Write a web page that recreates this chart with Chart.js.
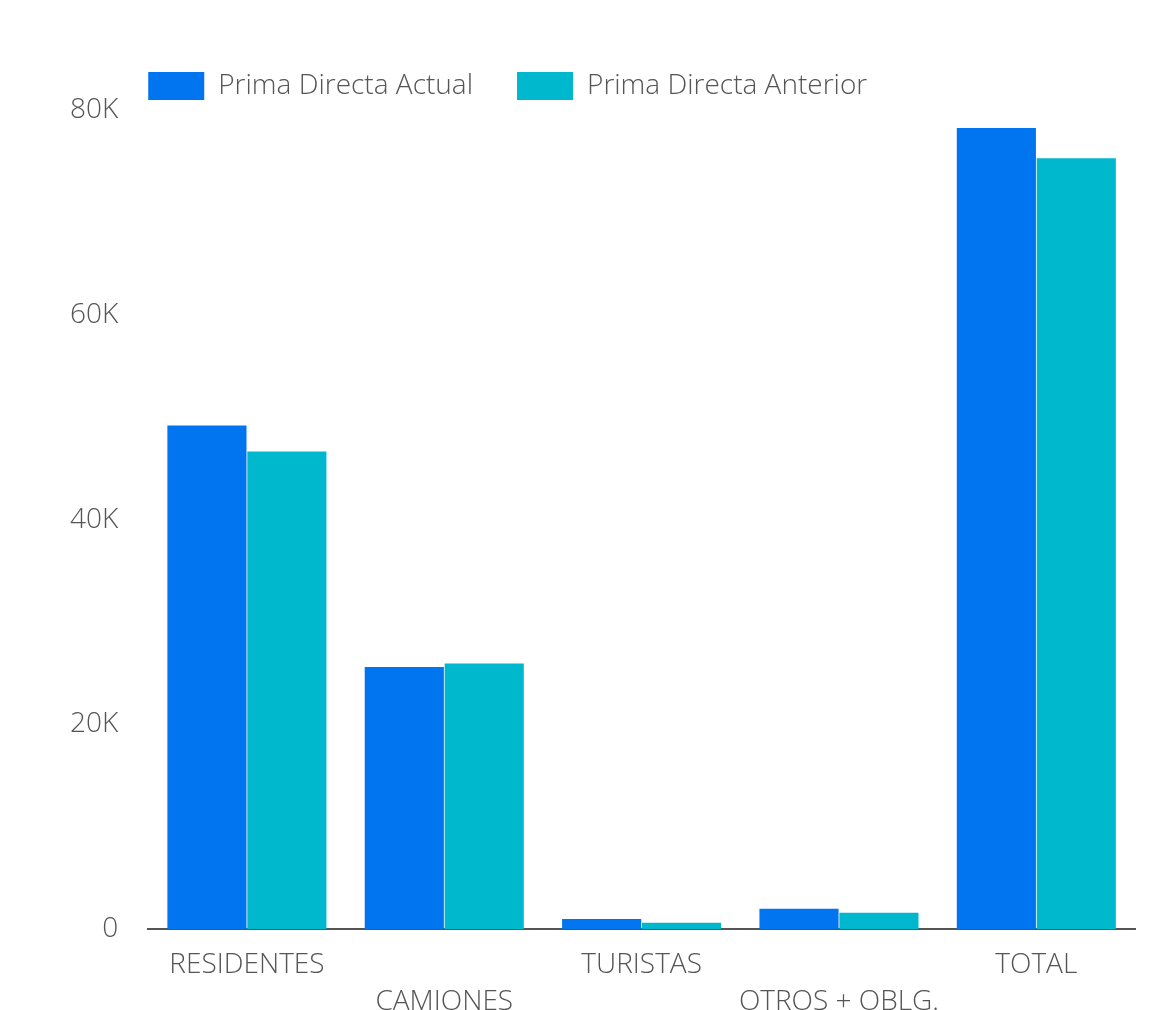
<!DOCTYPE html>
<html>
<head>
<meta charset="utf-8">
<script src="https://cdn.jsdelivr.net/npm/chart.js@4"></script>
<style>
  html, body { margin: 0; padding: 0; background: #fff; }
  #wrap { width: 1171px; height: 1010px; }
</style>
</head>
<body>
<div id="wrap"><canvas id="bar-chart"></canvas></div>
<script>
// datos
var categorias = ["RESIDENTES", ["", "CAMIONES"], "TURISTAS", ["", "OTROS + OBLG."], "TOTAL"];
var primaActual = [49200, 25600, 1000, 2000, 78250];
var primaAnterior = [46650, 25950, 620, 1600, 75300];
var ticksY = [0, 20000, 40000, 60000, 80000];

var gris = "#555555";
Chart.defaults.font.family = "'Open Sans', Lato, sans-serif";
Chart.defaults.font.weight = 300;
Chart.defaults.color = gris;

var legendPadding = 44;

// la leyenda empieza justo en el borde izquierdo del area del grafico
var legendLeft = {
    id: 'legendLeft',
    afterLayout: function (chart) {
        chart.legend.left -= legendPadding;
        chart.legend.right -= legendPadding;
    }
};

var ctx = document.getElementById("bar-chart");
var chartGraph = new Chart(ctx, {
    type: 'bar',
    data: {
        labels: categorias,
        datasets: [{
            label: "Prima Directa Actual",
            data: primaActual,
            backgroundColor: "#0174EF",
            categoryPercentage: 0.81,
            barPercentage: 0.99
        }, {
            label: "Prima Directa Anterior",
            data: primaAnterior,
            backgroundColor: "#00B8CE",
            categoryPercentage: 0.81,
            barPercentage: 0.99
        }]
    },
    plugins: [legendLeft],
    options: {
        responsive: true,
        maintainAspectRatio: false,
        animation: false,
        layout: { padding: { top: 28, right: 36, left: 48, bottom: -20 } },
        plugins: {
            legend: {
                position: 'top',
                align: 'start',
                fullSize: false,
                labels: {
                    boxWidth: 56,
                    boxHeight: 28,
                    padding: legendPadding,
                    font: { size: 28, weight: 300 },
                    color: gris
                }
            },
            tooltip: { enabled: false }
        },
        scales: {
            x: {
                grid: { display: false },
                border: { color: gris, width: 2 },
                ticks: {
                    autoSkip: false,
                    maxRotation: 0,
                    padding: 10,
                    font: { size: 28, weight: 300, lineHeight: 1.3 },
                    color: gris
                }
            },
            y: {
                min: 0,
                max: 80000,
                grid: { display: false },
                border: { display: false },
                afterBuildTicks: function (axis) {
                    axis.ticks = ticksY.map(function (v) { return { value: v }; });
                },
                ticks: {
                    padding: 22,
                    font: { size: 28, weight: 300 },
                    color: gris,
                    callback: function (v) { return v === 0 ? "0" : (v / 1000) + "K"; }
                }
            }
        }
    }
});
</script>
</body>
</html>
